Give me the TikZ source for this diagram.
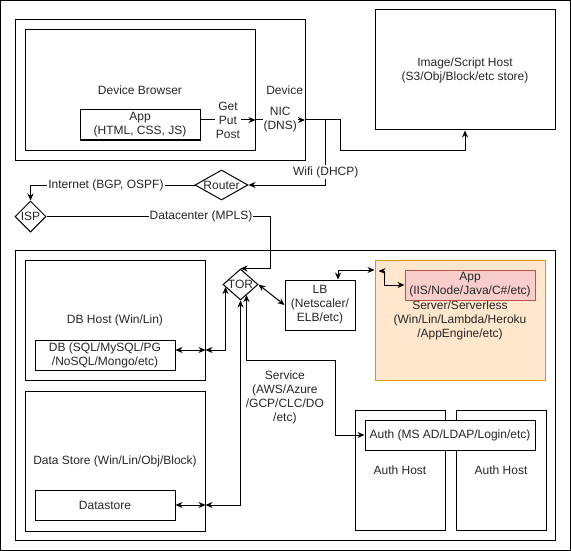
\documentclass[tikz,border=0pt]{standalone}
\usepackage{fontspec}
\setmainfont{Liberation Sans}
\usetikzlibrary{positioning,shapes.geometric,arrows.meta}
\definecolor{srvfill}{HTML}{FFE6CC}
\definecolor{srvline}{HTML}{D79B00}
\definecolor{appfill}{HTML}{F8CECC}
\definecolor{appline}{HTML}{B85450}

\begin{document}
\begin{tikzpicture}[x=1pt,y=-1pt,line width=1pt,>={Stealth[length=7pt,width=6pt]},
      every node/.style={font=\fontsize{12}{14}\selectfont,text=black!85},
      box/.style={draw,align=center,inner sep=0pt},
      hub/.style={draw,shape=diamond,inner sep=0pt},
      lbl/.style={fill=white,inner sep=1pt,align=center}]
			\useasboundingbox (0,0) rectangle (571,551);
			\draw (0.5,0.5) rectangle (570.5,550.5);
			\node[box,minimum width=290,minimum height=140,label={[anchor=east,inner sep=2pt]east:Device}] (device) at (160,90) {};
			\node[box,minimum width=230,minimum height=120] (browser) at (140,90) {Device Browser};
			\node[box,fill=white,minimum width=120,minimum height=30] (app) at (140,125) {App\\(HTML, CSS, JS)};
			\node[box,minimum width=180,minimum height=120] (imghost) at (465,70) {Image/Script Host\\(S3/Obj/Block/etc store)};
			\node[hub,aspect=1.77,minimum width=53,minimum height=30] (router) at (221.5,185) {Router};
			\node[hub,minimum width=31,minimum height=31] (isp) at (30.5,216.5) {ISP};
			\node[box,minimum width=540,minimum height=290] (dc) at (285,395) {};
			\node[box,minimum width=180,minimum height=120] (dbhost) at (115,320) {DB Host (Win/Lin)};
			\node[box,minimum width=140,minimum height=30] (db) at (105,355) {DB (SQL/MySQL/PG\\/NoSQL/Mongo/etc)};
			\node[box,minimum width=180,minimum height=140] (dshost) [below=10pt of dbhost] {Data Store (Win/Lin/Obj/Block)};
			\node[box,minimum width=140,minimum height=30] (datastore) at (105,505) {Datastore};
			\node[hub,aspect=1.13,minimum width=35,minimum height=31] (tor) at (240.5,284.5) {TOR};
			\node[box,minimum width=70,minimum height=50] (lb) at (320,305) {LB\\(Netscaler/\\ELB/etc)};
			\node[box,fill=srvfill,draw=srvline,minimum width=170,minimum height=120] (server) at (460,320) {Server/Serverless\\(Win/Lin/Lambda/Heroku\\/AppEngine/etc)};
			\node[box,fill=appfill,draw=appline,minimum width=130,minimum height=30] (appsrv) at (470,285) {App\\(IIS/Node/Java/C\#/etc)};
			\node[box,minimum width=90,minimum height=120] (auth1) at (400,470) {Auth Host};
			\node[box,minimum width=90,minimum height=120] (auth2) [right=10pt of auth1] {Auth Host};
			\node[box,fill=white,minimum width=170,minimum height=30] (auth) at (450,435) {Auth (MS AD/LDAP/Login/etc)};
			\coordinate (nicpt) at (305,120);
			\coordinate (dbport) at ([yshift=5pt]db.east);
			\coordinate (svcbend) at (335.7,360);
			\draw[->] (app.east |- nicpt) -- node[lbl] {Get\\Put\\Post} (browser.east |- nicpt);
			\draw[->] (browser.east |- nicpt) -- node[lbl] {NIC\\(DNS)} (nicpt);
			\draw[->] (nicpt) -- ++(35,0) |- ([yshift=-20pt]imghost.south) -- (imghost.south);
			\draw[->] (nicpt) -- ++(20.7,0) |- node[lbl,pos=0.4] {Wifi (DHCP)} (router.east);
			\draw[->] (router.west) -| node[lbl,pos=0.27] {Internet (BGP, OSPF)} (isp.north);
			\draw[->] (isp.east) -| node[lbl,pos=0.345] {Datacenter (MPLS)} ([xshift=30pt]tor.north) -- (tor.north);
			\draw[<->] (dbport) -- (dbport -| dbhost.east);
			\draw[<->] (dbport -| dbhost.east) -| ([xshift=3pt,yshift=-2.5pt]tor.west);
			\draw[<->] (datastore.east) -- (datastore.east -| dshost.east);
			\draw[<->] (datastore.east -| dshost.east) -| (tor.south);
			\draw[<->] ([xshift=6pt,yshift=5.5pt]tor.south) |- (svcbend) |- node[pos=0.25,left=8pt,align=center] {Service\\(AWS/Azure\\/GCP/CLC/DO\\/etc)} (auth.west);
			\draw[<->] (tor.east) -- (lb.west);
			\draw[<->] ([xshift=18pt]lb.north) |- ([yshift=50pt]server.west);
			\draw[<->] ([xshift=4pt,yshift=49pt]server.west) -- ++(6,0) |- (appsrv.west);
		\end{tikzpicture}
\end{document}
